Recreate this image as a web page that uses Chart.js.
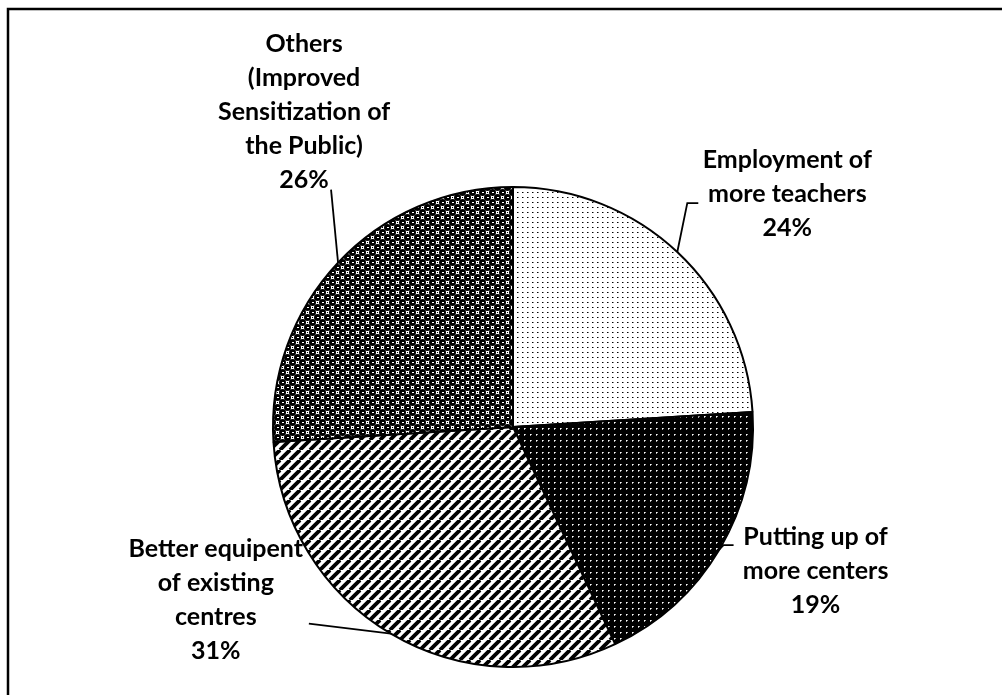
<!DOCTYPE html>
<html>
<head>
<meta charset="utf-8">
<script src="https://cdn.jsdelivr.net/npm/chart.js@4"></script>
<style>
html,body{margin:0;padding:0;background:#fff;}
#wrap{position:relative;width:1002px;height:695px;}
</style>
</head>
<body>
<div id="wrap"><canvas id="c" width="1002" height="695"></canvas></div>
<script>
// ---- data ----
const categories = [
  "Employment of more teachers",
  "Putting up of more centers",
  "Better equipent of existing centres",
  "Others (Improved Sensitization of the Public)"
];
const values = [24, 19, 31, 26];
const labelLines = [
  ["Employment of", "more teachers"],
  ["Putting up of", "more centers"],
  ["Better equipent", "of existing", "centres"],
  ["Others", "(Improved", "Sensitization of", "the Public)"]
];

// ---- label layout (offsets from slice edge at mid-angle) ----
const labelLayout = [
  { leader: [[0,0],[10,-49],[21,-49]], tx: 110, ty: -92 },
  { leader: [[0,0],[4,-4],[14,-4]],    tx: 96,  ty: -12 },
  { leader: [[0,0],[-82,-10]],         tx: -175, ty: -85 },
  { leader: [[0,0],[-7,-73]],          tx: -34, ty: -219 }
];

// ---- patterns ----
function makePattern(size, draw) {
  const c = document.createElement('canvas');
  c.width = size; c.height = size;
  const g = c.getContext('2d');
  draw(g, size);
  return g.createPattern(c, 'repeat');
}
const patDotsLight = makePattern(5, (g, s) => {
  g.fillStyle = '#fff'; g.fillRect(0, 0, s, s);
  g.fillStyle = '#000'; g.fillRect(2, 2, 1, 1);
  g.fillStyle = '#888'; g.fillRect(3, 2, 1, 1);
});
const patDotsDark = makePattern(6, (g, s) => {
  g.fillStyle = '#000'; g.fillRect(0, 0, s, s);
  g.fillStyle = '#fff'; g.fillRect(2, 2, 1, 1);
  g.fillStyle = '#aaa'; g.fillRect(3, 2, 1, 1); g.fillRect(2, 3, 1, 1);
});
const patStripes = makePattern(10, (g, s) => {
  g.fillStyle = '#fff'; g.fillRect(0, 0, s, s);
  g.strokeStyle = '#000'; g.lineWidth = 3.8;
  for (const o of [-s, 0, s]) {
    g.beginPath(); g.moveTo(o, s); g.lineTo(o + s, 0); g.stroke();
  }
});
const patSpheres = makePattern(10, (g, s) => {
  g.fillStyle = '#fff'; g.fillRect(0, 0, s, s);
  g.fillStyle = '#000';
  const centers = [[2.5, 2.5], [7.5, 7.5]];
  for (const [cx, cy] of centers) {
    for (const ox of [-s, 0, s]) for (const oy of [-s, 0, s]) {
      g.beginPath(); g.arc(cx + ox, cy + oy, 3.5, 0, Math.PI * 2); g.fill();
    }
  }
  g.fillStyle = '#fff';
  g.fillRect(2, 2, 2, 1); g.fillRect(7, 7, 2, 1);
  g.fillStyle = '#000';
  g.fillRect(7, 2, 1, 1); g.fillRect(2, 7, 1, 1);
});

// ---- plugins ----
const framePlugin = {
  id: 'frame',
  beforeDraw(chart) {
    const ctx = chart.ctx;
    ctx.save();
    ctx.fillStyle = '#fff';
    ctx.fillRect(0, 0, chart.width, chart.height);
    ctx.strokeStyle = '#000';
    ctx.lineWidth = 2.5;
    ctx.beginPath();
    ctx.moveTo(8, chart.height);
    ctx.lineTo(8, 9);
    ctx.lineTo(chart.width, 9);
    ctx.stroke();
    ctx.restore();
  }
};

const labelPlugin = {
  id: 'pieLabels',
  afterDatasetsDraw(chart) {
    const ctx = chart.ctx;
    const meta = chart.getDatasetMeta(0);
    const data = chart.data.datasets[0].data;
    const total = data.reduce((a, b) => a + b, 0);
    ctx.save();
    meta.data.forEach((arc, i) => {
      const p = arc.getProps(['x', 'y', 'startAngle', 'endAngle', 'outerRadius'], true);
      const mid = (p.startAngle + p.endAngle) / 2;
      const ex = p.x + Math.cos(mid) * p.outerRadius;
      const ey = p.y + Math.sin(mid) * p.outerRadius;
      const lay = labelLayout[i];
      ctx.strokeStyle = '#000';
      ctx.lineWidth = 1.8;
      ctx.beginPath();
      lay.leader.forEach(([dx, dy], k) => {
        if (k === 0) ctx.moveTo(ex + dx, ey + dy); else ctx.lineTo(ex + dx, ey + dy);
      });
      ctx.stroke();
      const lines = labelLines[i].concat([Math.round(data[i] / total * 100) + '%']);
      ctx.fillStyle = '#000';
      ctx.font = 'bold 25px Lato, "Open Sans", sans-serif';
      ctx.textAlign = 'center';
      ctx.textBaseline = 'middle';
      lines.forEach((t, k) => {
        ctx.fillText(t, ex + lay.tx, ey + lay.ty + k * 34);
      });
    });
    ctx.restore();
  }
};

new Chart(document.getElementById('c'), {
  type: 'pie',
  data: {
    labels: categories,
    datasets: [{
      data: values,
      backgroundColor: [patDotsLight, patDotsDark, patStripes, patSpheres],
      borderColor: '#000',
      borderWidth: 2
    }]
  },
  options: {
    responsive: false,
    animation: false,
    events: [],
    layout: { padding: { top: 186, bottom: 27, left: 272, right: 248 } },
    plugins: { legend: { display: false }, tooltip: { enabled: false } }
  },
  plugins: [framePlugin, labelPlugin]
});
</script>
</body>
</html>
